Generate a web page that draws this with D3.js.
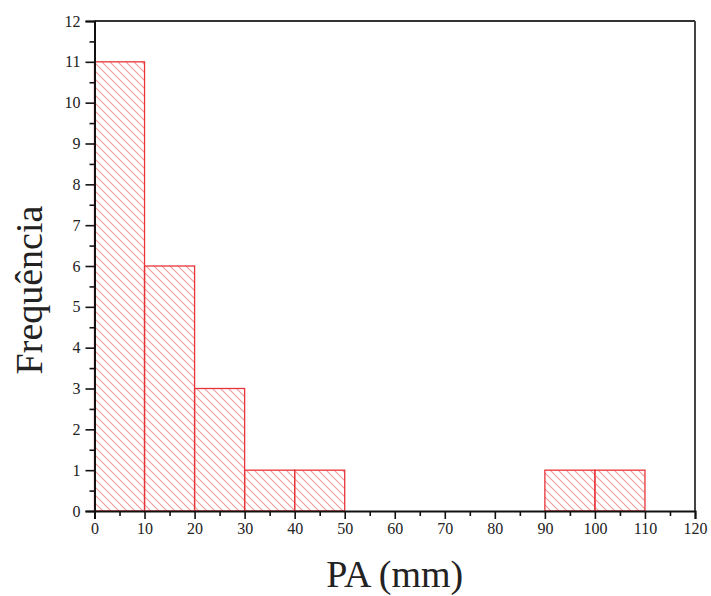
<!DOCTYPE html>
<html>
<head>
<meta charset="utf-8">
<script src="https://cdn.jsdelivr.net/npm/d3@7"></script>
<style>
  html, body { margin: 0; padding: 0; background: #fff; }
  svg { display: block; }
  text { font-family: "Liberation Serif", "Times New Roman", serif; fill: #222; }
</style>
</head>
<body>
<svg id="chart" width="711" height="596"></svg>
<script>
// Histogram of PA (mm): bin edges and counts
const binStarts = [0, 10, 20, 30, 40, 90, 100];
const binWidth = 10;
const counts = [11, 6, 3, 1, 1, 1, 1];
const xTicks = [0, 10, 20, 30, 40, 50, 60, 70, 80, 90, 100, 110, 120];
const yTicks = [0, 1, 2, 3, 4, 5, 6, 7, 8, 9, 10, 11, 12];
const xLabel = "PA (mm)";
const yLabel = "Frequência";

const svg = d3.select("#chart");
const margin = { left: 94.5, right: 16, top: 21, bottom: 85 };
const W = 711, H = 596;

const x = d3.scaleLinear().domain([0, 120]).range([margin.left, W - margin.right]);
const y = d3.scaleLinear().domain([0, 12]).range([H - margin.bottom, margin.top]);

// diagonal hatch fill
const defs = svg.append("defs");
const pat = defs.append("pattern")
  .attr("id", "hatch")
  .attr("patternUnits", "userSpaceOnUse")
  .attr("width", 8).attr("height", 8);
pat.append("path")
  .attr("d", "M0,0 L8,8 M-2,6 L2,10 M6,-2 L10,2")
  .attr("stroke", "#f09a9a")
  .attr("stroke-width", 1.1)
  .attr("fill", "none");

const bins = binStarts.map((s, i) => ({ x0: s, x1: s + binWidth, n: counts[i] }));

svg.append("g").selectAll("rect")
  .data(bins)
  .join("rect")
  .attr("x", d => x(d.x0))
  .attr("y", d => y(d.n))
  .attr("width", d => x(d.x1) - x(d.x0))
  .attr("height", d => y(0) - y(d.n))
  .attr("fill", "url(#hatch)")
  .attr("stroke", "#e8353a")
  .attr("stroke-width", 1.3);

// frame: top and right
svg.append("line")
  .attr("x1", x(0)).attr("x2", x(120)).attr("y1", y(12)).attr("y2", y(12))
  .attr("stroke", "#333").attr("stroke-width", 2);
svg.append("line")
  .attr("x1", x(120)).attr("x2", x(120)).attr("y1", y(12)).attr("y2", y(0))
  .attr("stroke", "#444").attr("stroke-width", 2);

// minor ticks
const xMinor = d3.range(5, 120, 10);
const yMinor = d3.range(0.5, 12, 1);

svg.append("g")
  .attr("transform", `translate(0,${y(0)})`)
  .call(d3.axisBottom(x).tickValues(xTicks).tickSize(8).tickPadding(4).tickFormat(d3.format("d")));
svg.append("g")
  .attr("transform", `translate(0,${y(0)})`)
  .call(d3.axisBottom(x).tickValues(xMinor).tickSize(5).tickFormat(""))
  .call(g => g.select(".domain").remove());

svg.append("g")
  .attr("transform", `translate(${x(0)},0)`)
  .call(d3.axisLeft(y).tickValues(yTicks).tickSize(9).tickPadding(5).tickFormat(d3.format("d")));
svg.append("g")
  .attr("transform", `translate(${x(0)},0)`)
  .call(d3.axisLeft(y).tickValues(yMinor).tickSize(5).tickFormat(""))
  .call(g => g.select(".domain").remove());

svg.selectAll(".tick line").attr("stroke", "#111").attr("stroke-width", 1.6);
svg.selectAll(".domain").attr("stroke", "#111").attr("stroke-width", 2);
svg.selectAll(".tick text")
  .style("font-family", "'Liberation Serif', 'Times New Roman', serif")
  .style("font-size", "16px")
  .attr("fill", "#333");

// axis titles
svg.append("text")
  .attr("x", (x(0) + x(120)) / 2)
  .attr("y", 587)
  .attr("text-anchor", "middle")
  .style("font-size", "38px")
  .text(xLabel);

svg.append("text")
  .attr("transform", `translate(42,290) rotate(-90)`)
  .attr("text-anchor", "middle")
  .style("font-size", "38px")
  .text(yLabel);
</script>
</body>
</html>
